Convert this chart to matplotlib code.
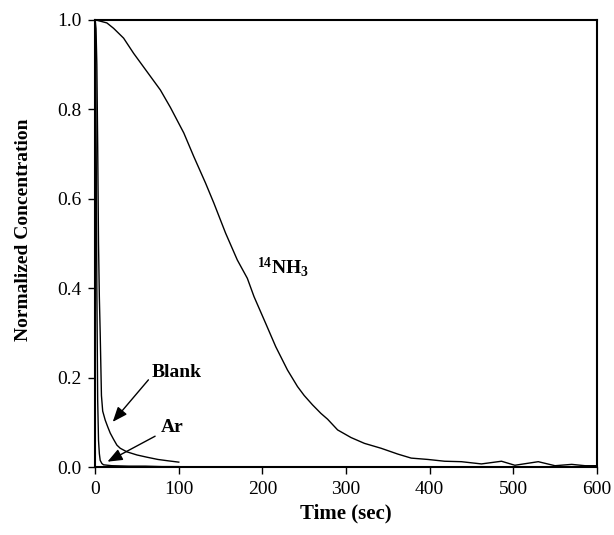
import matplotlib
matplotlib.use('Agg')
import matplotlib.pyplot as plt

plt.rcParams['font.family'] = ['Liberation Serif', 'DejaVu Serif']
plt.rcParams['mathtext.fontset'] = 'custom'
plt.rcParams['mathtext.rm'] = 'Liberation Serif'
plt.rcParams['mathtext.bf'] = 'Liberation Serif:bold'

# 14NH3 response
nh3_t = [0, 14, 22, 34, 46, 62, 78, 90, 106, 118, 132, 142, 156, 170, 182, 190,
         204, 216, 230, 242, 250, 260, 270, 278, 290, 306, 322, 342, 362, 378,
         398, 418, 438, 462, 486, 502, 530, 550, 570, 586, 600]
nh3_y = [1.0, 0.993, 0.981, 0.959, 0.925, 0.884, 0.843, 0.804, 0.747, 0.694,
         0.635, 0.59, 0.523, 0.463, 0.422, 0.381, 0.321, 0.269, 0.217, 0.18,
         0.16, 0.139, 0.12, 0.107, 0.083, 0.066, 0.053, 0.042, 0.029, 0.02,
         0.017, 0.013, 0.012, 0.007, 0.013, 0.004, 0.012, 0.003, 0.006, 0.003, 0.003]

# blank reactor
blank_t = [0, 1, 2, 3, 4, 5, 6, 7.5, 9, 12, 15, 18, 22, 26, 30, 38, 50, 62, 75, 87, 100]
blank_y = [1.0, 0.98, 0.9, 0.72, 0.5, 0.38, 0.3, 0.16, 0.125, 0.105, 0.09, 0.076,
           0.062, 0.049, 0.042, 0.034, 0.027, 0.022, 0.017, 0.014, 0.011]

# argon tracer
ar_t = [0, 0.5, 1, 1.5, 2, 3, 4, 5, 6, 8, 10, 20, 40, 60, 80, 100]
ar_y = [1.0, 0.95, 0.8, 0.6, 0.4, 0.15, 0.06, 0.03, 0.015, 0.008, 0.005, 0.003,
        0.002, 0.002, 0.001, 0.001]

fig = plt.figure(figsize=(6.14, 5.35), dpi=100)
ax = fig.add_axes([0.155, 0.127, 0.817, 0.836])

ax.plot(nh3_t, nh3_y, color='black', lw=1.0)
ax.plot(blank_t, blank_y, color='black', lw=1.0)
ax.plot(ar_t, ar_y, color='black', lw=1.0)

ax.set_xlim(0, 600)
ax.set_ylim(0, 1.0)
ax.set_xticks(range(0, 601, 100))
ax.set_yticks([0.0, 0.2, 0.4, 0.6, 0.8, 1.0])
ax.set_yticklabels(['0.0', '0.2', '0.4', '0.6', '0.8', '1.0'])
ax.tick_params(direction='out', length=5, width=1, labelsize=14, pad=5)
for s in ax.spines.values():
    s.set_linewidth(1.5)

ax.set_xlabel('Time (sec)', fontsize=15, fontweight='bold', labelpad=4)
ax.set_ylabel('Normalized Concentration', fontsize=14, fontweight='bold')
ax.yaxis.set_label_coords(-0.125, 0.53)

arrow = dict(arrowstyle='-|>,head_length=0.5,head_width=0.2', color='black',
             lw=1.0, mutation_scale=18, shrinkA=0, shrinkB=0)
ax.text(67.8, 0.211, 'Blank', fontsize=14, fontweight='bold', va='center', ha='left')
ax.annotate('', xy=(21, 0.101), xytext=(63.7, 0.195), arrowprops=arrow)
ax.text(79, 0.089, 'Ar', fontsize=14, fontweight='bold', va='center', ha='left')
ax.annotate('', xy=(14.7, 0.012), xytext=(71.7, 0.069), arrowprops=arrow)
ax.text(193.6, 0.447, r'$\mathbf{^{14}NH_3}$', fontsize=14, va='center', ha='left')

plt.savefig('out.png', dpi=100)
